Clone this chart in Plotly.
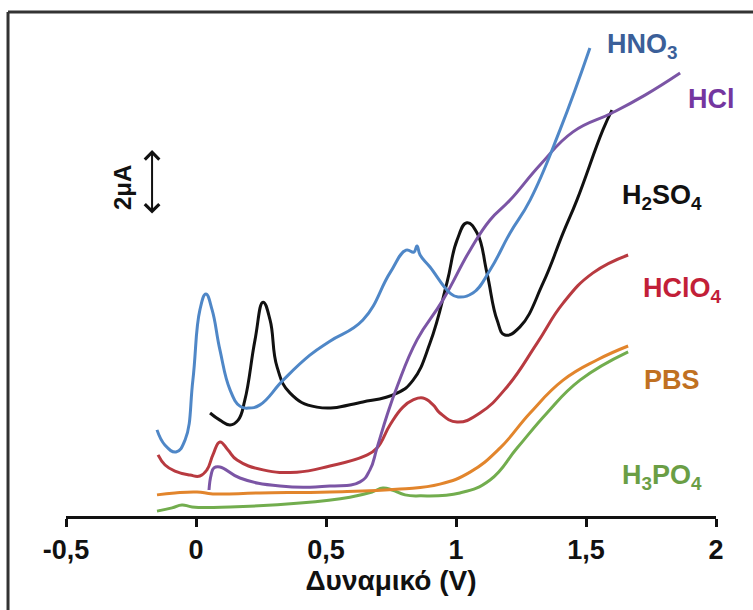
import plotly.graph_objects as go

# Voltammograms: potential (V) vs current (µA, curves stacked with arbitrary offsets)
hno3_v = [-0.150, -0.119, -0.077, -0.042, -0.012, 0.015, 0.038, 0.062, 0.092, 0.131, 0.169, 0.200,
          0.246, 0.335, 0.438, 0.515, 0.642, 0.746, 0.808, 0.838, 0.850, 0.862, 0.900, 0.977,
          1.008, 1.065, 1.131, 1.208, 1.285, 1.400, 1.515]
hno3_i = [2.65, 2.18, 1.97, 2.34, 4.18, 6.34, 6.83, 6.34, 5.11, 3.88, 3.38, 3.32,
          3.42, 4.18, 4.95, 5.38, 6.03, 7.48, 8.18, 8.12, 8.31, 8.03, 7.66, 6.86,
          6.74, 6.86, 7.57, 8.71, 9.72, 11.88, 14.40]

h2so4_v = [0.054, 0.092, 0.131, 0.162, 0.188, 0.227, 0.258, 0.285, 0.312, 0.362, 0.465, 0.642,
           0.773, 0.835, 0.900, 0.965, 1.004, 1.042, 1.081, 1.119, 1.158, 1.188, 1.246, 1.335,
           1.412, 1.465, 1.565, 1.600]
h2so4_i = [3.17, 2.95, 2.80, 2.95, 3.57, 5.42, 6.58, 6.03, 4.58, 3.78, 3.35, 3.51,
           3.78, 4.18, 5.32, 7.17, 8.49, 9.02, 8.71, 7.48, 6.03, 5.57, 5.82, 7.17,
           8.71, 9.72, 11.88, 12.49]

hcl_v = [0.050, 0.058, 0.069, 0.092, 0.169, 0.323, 0.515, 0.631, 0.669, 0.696, 0.735, 0.773,
         0.850, 0.950, 1.054, 1.131, 1.208, 1.323, 1.450, 1.600, 1.727, 1.862]
hcl_i = [0.80, 1.26, 1.48, 1.51, 1.17, 0.92, 0.92, 1.05, 1.42, 2.09, 3.11, 3.97,
         5.42, 6.65, 8.18, 9.11, 9.72, 10.80, 11.82, 12.40, 12.95, 13.63]

hclo4_v = [-0.146, -0.119, -0.081, -0.023, 0.015, 0.042, 0.065, 0.092, 0.123, 0.158, 0.258, 0.388,
           0.515, 0.650, 0.696, 0.746, 0.796, 0.835, 0.873, 0.912, 0.938, 1.004, 1.092, 1.196,
           1.312, 1.412, 1.527, 1.662]
hclo4_i = [1.88, 1.57, 1.38, 1.26, 1.23, 1.42, 1.88, 2.28, 2.03, 1.72, 1.42, 1.35,
           1.54, 1.85, 2.09, 2.80, 3.35, 3.57, 3.63, 3.42, 3.17, 2.89, 3.17, 3.97,
           5.32, 6.55, 7.48, 8.03]

pbs_v = [-0.150, -0.081, 0.004, 0.065, 0.246, 0.515, 0.785, 0.938, 1.054, 1.169, 1.285, 1.412,
         1.542, 1.662]
pbs_i = [0.65, 0.71, 0.74, 0.68, 0.71, 0.74, 0.83, 0.98, 1.35, 2.09, 3.17, 4.18,
         4.80, 5.23]

h3po4_v = [-0.150, -0.092, -0.054, -0.015, 0.131, 0.400, 0.592, 0.677, 0.719, 0.754, 0.804, 0.862,
           1.015, 1.131, 1.235, 1.350, 1.477, 1.662]
h3po4_i = [0.15, 0.25, 0.34, 0.28, 0.28, 0.40, 0.58, 0.74, 0.86, 0.80, 0.65, 0.62,
           0.71, 1.11, 2.09, 3.17, 4.18, 5.05]

tick_vals = [-0.5, 0, 0.5, 1, 1.5, 2]
tick_text = ["-0,5", "0", "0,5", "1", "1,5", "2"]

# name, potentials, currents, line colour, label colour, label position (V, µA)
series = [
    ("HNO<sub>3</sub>", hno3_v, hno3_i, "#4f87c7", "#3b5f99", 1.719, 14.46),
    ("HCl", hcl_v, hcl_i, "#7b55a5", "#7436a0", 1.983, 12.83),
    ("H<sub>2</sub>SO<sub>4</sub>", h2so4_v, h2so4_i, "#111111", "#111111", 1.791, 9.82),
    ("HClO<sub>4</sub>", hclo4_v, hclo4_i, "#b83a40", "#c21f38", 1.873, 6.95),
    ("PBS", pbs_v, pbs_i, "#e2852c", "#c07021", 1.831, 4.20),
    ("H<sub>3</sub>PO<sub>4</sub>", h3po4_v, h3po4_i, "#72ad4e", "#6a9e45", 1.794, 1.20),
]

FONT = "Arial, Liberation Sans, sans-serif"

fig = go.Figure()
annotations = []
# draw bottom-up so the stacking order resembles the original figure
for name, v, i, col, tcol, lx, ly in reversed(series):
    fig.add_trace(go.Scatter(
        x=v, y=i, mode="lines", name=name,
        line=dict(color=col, width=3, shape="spline", smoothing=1.3),
        hoverinfo="skip", showlegend=False,
    ))
for name, v, i, col, tcol, lx, ly in series:
    annotations.append(dict(
        x=lx, y=ly, xref="x", yref="y", text=f"<b>{name}</b>", showarrow=False,
        font=dict(family=FONT, size=27, color=tcol),
    ))

# 2 µA scale bar
annotations.append(dict(
    x=-0.169, y=11.26, ax=-0.169, ay=9.26, xref="x", yref="y", axref="x", ayref="y",
    text="", showarrow=True, arrowhead=4, startarrowhead=4, arrowside="end+start",
    arrowsize=1.4, startarrowsize=1.4, arrowwidth=2, arrowcolor="#111111",
))
annotations.append(dict(
    x=-0.285, y=10.12, xref="x", yref="y", text="<b>2μA</b>", showarrow=False,
    textangle=-90, font=dict(family=FONT, size=24, color="#111111"),
))

# frame around the figure
frame = dict(color="#333333", width=3)
shapes = [
    dict(type="line", xref="paper", yref="paper", x0=-0.0892, x1=-0.0892, y0=1.0202, y1=-0.25, line=frame),
    dict(type="line", xref="paper", yref="paper", x0=-0.0892, x1=1.1, y0=1.0202, y1=1.0202, line=frame),
]

fig.update_layout(
    width=753, height=610,
    margin=dict(l=66, r=37, t=22, b=94),
    paper_bgcolor="white", plot_bgcolor="white",
    annotations=annotations, shapes=shapes,
    font=dict(family=FONT, color="#111111"),
    xaxis=dict(
        range=[-0.5, 2], tickvals=tick_vals, ticktext=[f"<b>{t}</b>" for t in tick_text],
        showline=True, linecolor="#111111", linewidth=3, ticks="outside", ticklen=8,
        tickwidth=3, tickcolor="#111111", showgrid=False, zeroline=False,
        tickfont=dict(family=FONT, size=27, color="#111111"),
        title=dict(text="<b>Δυναμικό (V)</b>", font=dict(family=FONT, size=28, color="#111111"), standoff=0),
    ),
    yaxis=dict(range=[0, 15.2], visible=False, showgrid=False, zeroline=False),
)

fig.write_html("out.html")
